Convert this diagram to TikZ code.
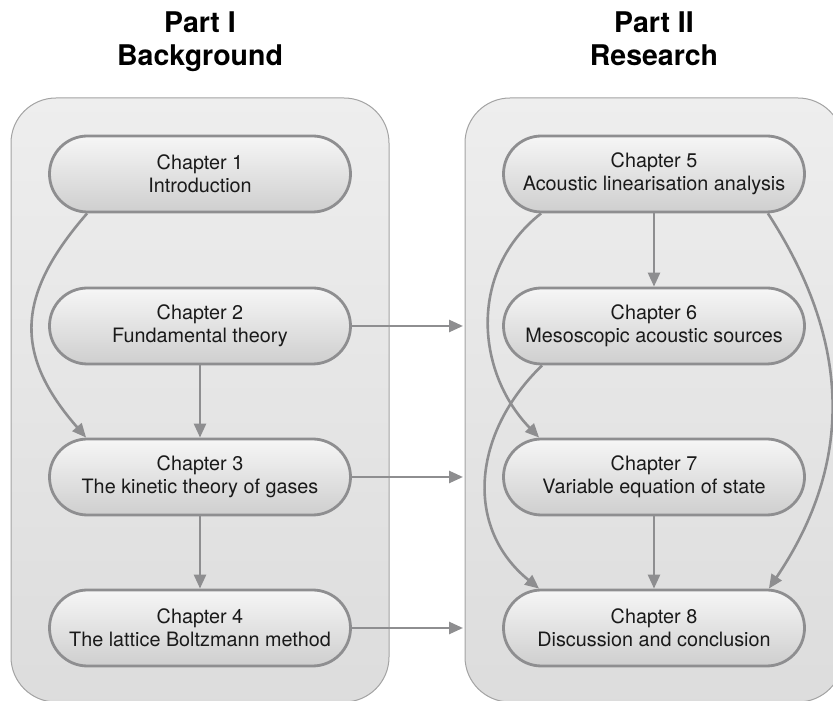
\documentclass[tikz,border=0pt]{standalone}
\usepackage{fontspec}
\setmainfont{TeX Gyre Heros}
\usetikzlibrary{arrows.meta}

\definecolor{panelfill}{HTML}{EDEDED}
\definecolor{panelline}{HTML}{A3A3A3}
\definecolor{chapline}{HTML}{8E8E90}
\definecolor{chaptext}{HTML}{1A1A1A}

\tikzset{
  panel/.style={draw=panelline, line width=1pt, rounded corners=45pt,
    top color=panelfill!95!white, bottom color=panelfill!93!black,
    minimum width=378pt, minimum height=604pt, inner sep=0pt},
  chapter/.style={draw=chapline, line width=2.8pt, rounded corners=37.9pt,
    top color=gray!7, bottom color=gray!38, text=chaptext,
    minimum width=301pt, minimum height=76pt, align=center,
    font=\fontsize{19.8}{23}\selectfont},
  parttitle/.style={align=center, text=black, font=\bfseries\fontsize{28.5}{33}\selectfont},
  link/.style={draw=chapline, line width=2.6pt, -{Triangle[length=14pt,width=12pt]}}
}

\begin{document}
\begin{tikzpicture}[x=1pt,y=1pt]
    \useasboundingbox (0,0) rectangle (833,701);
    \clip (0,0) rectangle (833,701);

    % Titles
    \node[parttitle] (titleA) at (200,659) {Part I\\Background};
    \node[parttitle] (titleB) at (654,659) {Part II\\Research\vphantom{g}};

    % Panels
    \node[panel] (partA) at (200,301) {};
    \node[panel] (partB) at (654,301) {};

    % Part I chapters
    \node[chapter] (c1) at (200,527) {Chapter 1\\Introduction};
    \node[chapter] (c2) at (200,375) {Chapter 2\\Fundamental theory};
    \node[chapter] (c3) at (200,224) {Chapter 3\\The kinetic theory of gases};
    \node[chapter] (c4) at (200,73) {Chapter 4\\The lattice Boltzmann method};

    % Part II chapters
    \node[chapter] (c5) at (654,527) {Chapter 5\\Acoustic linearisation analysis};
    \node[chapter] (c6) at (654,375) {Chapter 6\\Mesoscopic acoustic sources};
    \node[chapter] (c7) at (654,224) {Chapter 7\\Variable equation of state};
    \node[chapter] (c8) at (654,73) {Chapter 8\\Discussion and conclusion};

    % Links inside Part I
    \draw[link] (c2) -- (c3);
    \draw[link] (c3) -- (c4);
    \draw[link] ([xshift=39pt]c1.south west) to[out=229, in=131, looseness=1.25] ([xshift=38pt]c3.north west);

    % Links from Part I to Part II
    \draw[link, shorten >=1.5pt] (c2.east) -- (c2.east -| partB.west);
    \draw[link, shorten >=1.5pt] (c3.east) -- (c3.east -| partB.west);
    \draw[link, shorten >=1.5pt] (c4.east) -- (c4.east -| partB.west);

    % Links inside Part II
    \draw[link] (c5) -- (c6);
    \draw[link] (c7) -- (c8);
    \draw[link] ([xshift=39pt]c5.south west) to[out=218, in=134, looseness=1.05] ([xshift=37pt]c7.north west);
    \draw[link] ([xshift=40pt]c6.south west) to[out=224, in=141, looseness=1.11] ([xshift=37pt]c8.north west);
    \draw[link] ([xshift=-38pt]c5.south east) to[out=-57, in=56, looseness=1.04] ([xshift=-37pt]c8.north east);
\end{tikzpicture}
\end{document}
